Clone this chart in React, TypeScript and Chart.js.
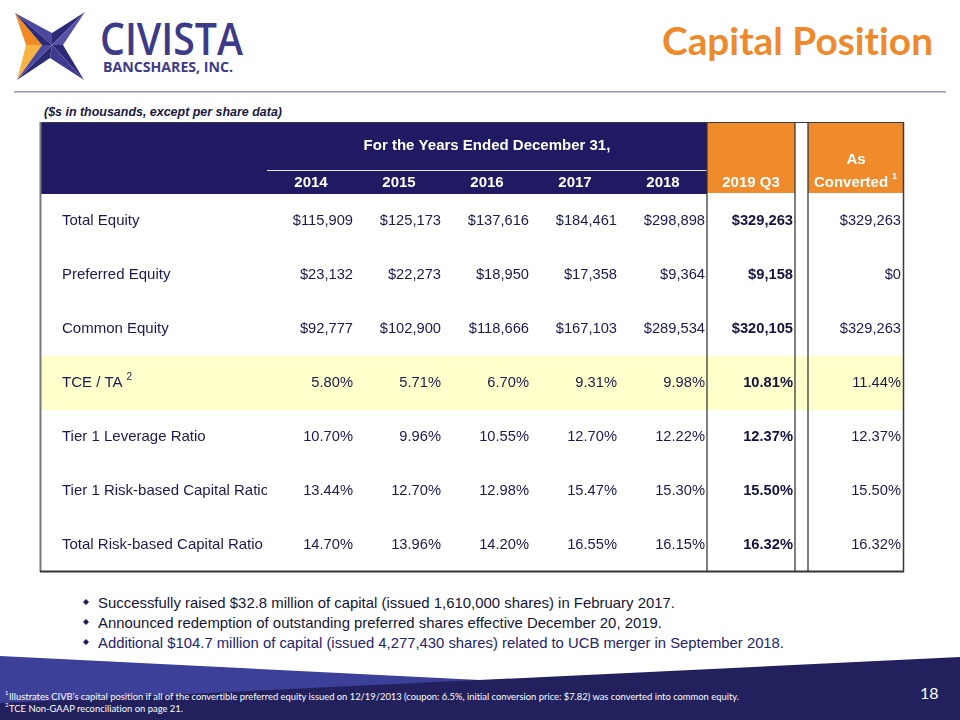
import React, { useEffect, useRef } from 'react';
import { Chart, registerables } from 'chart.js';

Chart.register(...registerables);

// ---------- data ----------
const columns = ['2014', '2015', '2016', '2017', '2018', '2019 Q3', 'As Converted'];
const headerGroup = 'For the Years Ended December 31,';
const rowLabels = [
  'Total Equity',
  'Preferred Equity',
  'Common Equity',
  'TCE / TA',
  'Tier 1 Leverage Ratio',
  'Tier 1 Risk-based Capital Ratio',
  'Total Risk-based Capital Ratio',
];
const rowFootnotes = ['', '', '', '2', '', '', ''];
const rowKinds = ['usd', 'usd', 'usd', 'pct', 'pct', 'pct', 'pct'];

const totalEquity = [115909, 125173, 137616, 184461, 298898, 329263, 329263];
const preferredEquity = [23132, 22273, 18950, 17358, 9364, 9158, 0];
const commonEquity = [92777, 102900, 118666, 167103, 289534, 320105, 329263];
const tceTa = [5.8, 5.71, 6.7, 9.31, 9.98, 10.81, 11.44];
const tier1Leverage = [10.7, 9.96, 10.55, 12.7, 12.22, 12.37, 12.37];
const tier1RiskBased = [13.44, 12.7, 12.98, 15.47, 15.3, 15.5, 15.5];
const totalRiskBased = [14.7, 13.96, 14.2, 16.55, 16.15, 16.32, 16.32];
const rowValues = [totalEquity, preferredEquity, commonEquity, tceTa, tier1Leverage, tier1RiskBased, totalRiskBased];

const bullets = [
  'Successfully raised $32.8 million of capital (issued 1,610,000 shares) in February 2017.',
  'Announced redemption of outstanding preferred shares effective December 20, 2019.',
  'Additional $104.7 million of capital (issued 4,277,430 shares) related to UCB merger in September 2018.',
];
const footnotes = [
  'Illustrates CIVB\u2019s capital position if all of the convertible preferred equity issued on 12/19/2013 (coupon: 6.5%, initial conversion price: $7.82) was converted into common equity.',
  'TCE Non-GAAP reconciliation on page 21.',
];

// ---------- layout / style ----------
const COL_WIDTHS = [227, 88, 88, 88, 88, 88, 88, 13, 96]; // label, 2014..2018, Q3, gap, as converted
const HEADER_H = 72;
const ROW_H = 54;
const NAVY = '#1f1a62';
const ORANGE = '#ef8b2a';
const YELLOW = '#ffffcc';
const TEXT = '#1b1a50';
const FONT = '"Liberation Sans", Arial, sans-serif';

function fmt(v: number, kind: string) {
  if (kind === 'usd') return '$' + v.toLocaleString('en-US');
  return v.toFixed(2) + '%';
}

export default function App() {
  const canvasRef = useRef<HTMLCanvasElement>(null);

  useEffect(() => {
    const canvas = canvasRef.current;
    if (!canvas) return;
    const edges: number[] = [0];
    COL_WIDTHS.forEach((w, i) => edges.push(edges[i] + w));
    const tableW = edges[edges.length - 1];
    const tableH = HEADER_H + ROW_H * rowLabels.length;
    const layoutCol = (i: number) => (i < 6 ? i + 1 : 8);
    const rowMid = (r: number) => HEADER_H + ROW_H * r + ROW_H / 2;

    const datasets = columns.map((col, i) => ({
      label: col,
      data: rowValues.map((vals, r) => ({ x: edges[layoutCol(i) + 1] - (i === 6 ? 3 : 2), y: rowMid(r), v: vals[i] })),
      pointRadius: 0,
      pointHoverRadius: 0,
      showLine: false,
    }));

    const tablePlugin = {
      id: 'capitalTable',
      beforeDatasetsDraw(chart: any) {
        const ctx = chart.ctx as CanvasRenderingContext2D;
        const X = (v: number) => chart.scales.x.getPixelForValue(v);
        const Y = (v: number) => chart.scales.y.getPixelForValue(v);
        ctx.save();
        // highlighted row
        const hl = rowLabels.indexOf('TCE / TA');
        ctx.fillStyle = YELLOW;
        ctx.fillRect(X(0), Y(HEADER_H + ROW_H * hl), X(tableW) - X(0), Y(HEADER_H + ROW_H * (hl + 1)) - Y(HEADER_H + ROW_H * hl));
        // navy header
        ctx.fillStyle = NAVY;
        ctx.fillRect(X(0), Y(0), X(edges[6]) - X(0), Y(HEADER_H) - Y(0));
        // orange headers
        ctx.fillStyle = ORANGE;
        ctx.fillRect(X(edges[6]), Y(0), X(edges[7]) - X(edges[6]), Y(HEADER_H - 1) - Y(0));
        ctx.fillRect(X(edges[8]), Y(0), X(edges[9]) - X(edges[8]), Y(HEADER_H - 1) - Y(0));
        // white rule in header
        ctx.strokeStyle = '#e8e8f0';
        ctx.lineWidth = 1;
        ctx.beginPath();
        ctx.moveTo(X(edges[1]), Math.round(Y(48)) + 0.5);
        ctx.lineTo(X(edges[6]), Math.round(Y(48)) + 0.5);
        ctx.stroke();

        // header text
        const HF = `bold 15px ${FONT}`;
        ctx.fillStyle = '#ffffff';
        ctx.font = HF;
        ctx.textBaseline = 'middle';
        ctx.textAlign = 'center';
        ctx.fillText(headerGroup, X((edges[1] + edges[6]) / 2), Y(24));
        columns.forEach((c, i) => {
          const lc = layoutCol(i);
          const cx = X((edges[lc] + edges[lc + 1]) / 2);
          if (c === 'As Converted') {
            ctx.textAlign = 'center';
            ctx.fillText('As', cx, Y(38));
            ctx.fillText('Converted', cx - 5, Y(61));
            const w = ctx.measureText('Converted').width;
            ctx.font = `bold 9px ${FONT}`;
            ctx.textAlign = 'left';
            ctx.fillText('1', cx - 5 + w / 2 + 4, Y(55));
            ctx.font = HF;
          } else {
            ctx.textAlign = 'center';
            ctx.fillText(c, cx, Y(61));
          }
        });

        // row labels (clipped to label column)
        ctx.save();
        ctx.beginPath();
        ctx.rect(X(0), Y(HEADER_H), X(edges[1]) - X(0), Y(tableH) - Y(HEADER_H));
        ctx.clip();
        ctx.fillStyle = TEXT;
        ctx.textAlign = 'left';
        rowLabels.forEach((lab, r) => {
          ctx.font = `15px ${FONT}`;
          const lx = X(22);
          ctx.fillText(lab, lx, Y(rowMid(r)));
          if (rowFootnotes[r]) {
            const w = ctx.measureText(lab).width;
            ctx.font = `10px ${FONT}`;
            ctx.fillText(rowFootnotes[r], lx + w + 4, Y(rowMid(r) - 6));
          }
        });
        ctx.restore();
        ctx.restore();
      },
      afterDatasetsDraw(chart: any) {
        const ctx = chart.ctx as CanvasRenderingContext2D;
        const X = (v: number) => chart.scales.x.getPixelForValue(v);
        const Y = (v: number) => chart.scales.y.getPixelForValue(v);
        ctx.save();
        ctx.textBaseline = 'middle';
        ctx.textAlign = 'right';
        chart.data.datasets.forEach((ds: any, di: number) => {
          const meta = chart.getDatasetMeta(di);
          const bold = ds.label === '2019 Q3';
          ctx.font = `${bold ? 'bold ' : ''}14.7px ${FONT}`;
          ctx.fillStyle = bold ? '#14133f' : TEXT;
          meta.data.forEach((el: any, r: number) => {
            ctx.fillText(fmt(ds.data[r].v, rowKinds[r]), el.x, el.y);
          });
        });
        // borders
        const line = (x1: number, y1: number, x2: number, y2: number, color: string, w: number) => {
          ctx.strokeStyle = color;
          ctx.lineWidth = w;
          ctx.beginPath();
          ctx.moveTo(X(x1), Y(y1));
          ctx.lineTo(X(x2), Y(y2));
          ctx.stroke();
        };
        line(0, 0.5, tableW, 0.5, '#3a3a4a', 1);
        line(0.5, 0, 0.5, tableH, '#7a7a7a', 2);
        line(0, tableH - 0.5, tableW, tableH - 0.5, '#333333', 2);
        line(tableW - 0.5, 0, tableW - 0.5, tableH, '#3a3a3a', 1.5);
        [edges[6], edges[7], edges[8]].forEach((e) => line(e, 0, e, tableH, '#3a3a3a', 1.3));
        ctx.restore();
      },
    };

    const chart = new Chart(canvas, {
      type: 'scatter',
      data: { datasets: datasets as any },
      options: {
        animation: false,
        responsive: false,
        maintainAspectRatio: false,
        devicePixelRatio: 1,
        events: [],
        layout: { padding: { left: 40, top: 122, right: 960 - 40 - tableW, bottom: 720 - 122 - tableH } },
        scales: {
          x: { type: 'linear', min: 0, max: tableW, display: false },
          y: { type: 'linear', min: 0, max: tableH, reverse: true, display: false },
        },
        plugins: { legend: { display: false }, tooltip: { enabled: false }, title: { display: false } },
      },
      plugins: [tablePlugin],
    });
    return () => chart.destroy();
  }, []);

  const bulletEnds = [675, 662, 784];
  const bulletColors = ['#151535', '#151535', '#24246a'];

  return (
    <div style={{ position: 'absolute', left: 0, top: 0, width: 960, height: 720, background: '#ffffff', overflow: 'hidden' }}>
      <svg width={960} height={720} style={{ position: 'absolute', left: 0, top: 0, fontVariantLigatures: 'none' }}>
        {/* logo mark */}
        <polygon points="15,13 42,45 26,45" fill="#ef8a24" />
        <polygon points="26,45 42,45 17,80" fill="#f7b444" />
        <polygon points="52,45 15,13 52,33" fill="#4b489e" />
        <polygon points="52,45 15,13 42,45" fill="#2c2977" />
        <polygon points="52,45 85,12 52,33" fill="#2c2977" />
        <polygon points="52,45 85,12 63,45" fill="#5552a8" />
        <polygon points="52,45 84,80 63,45" fill="#2c2977" />
        <polygon points="52,45 84,80 50,58" fill="#3f3c90" />
        <polygon points="52,45 17,80 50,58" fill="#2c2977" />
        <polygon points="52,45 17,80 42,45" fill="#4b489e" />
        <text x={100} y={55} fontFamily='"Open Sans", sans-serif' fontWeight={600} fontSize={46} fill="#3d3b88" textLength={143} lengthAdjust="spacingAndGlyphs">CIVISTA</text>
        <text x={103} y={72} fontFamily='"Open Sans", sans-serif' fontWeight={700} fontSize={13.5} fill="#3d3b88" textLength={130} lengthAdjust="spacingAndGlyphs">BANCSHARES, INC.</text>
        {/* title */}
        <text x={662} y={55} fontFamily="Lato, sans-serif" fontWeight={700} fontSize={38} fill="#ee8a2c" textLength={271} lengthAdjust="spacingAndGlyphs" style={{ fontVariantLigatures: 'none' }}>Capital Position</text>
        <rect x={14} y={91} width={932} height={1.6} fill="#9a9ac8" />
        {/* subtitle */}
        <text x={44} y={116} fontFamily={FONT} fontWeight={700} fontStyle="italic" fontSize={12.5} fill="#1a1a40" textLength={238} lengthAdjust="spacingAndGlyphs">($s in thousands, except per share data)</text>
        {/* bullets */}
        {bullets.map((b, i) => (
          <g key={i}>
            <polygon points={`${86},${599 + i * 20} ${89},${602 + i * 20} ${86},${605 + i * 20} ${83},${602 + i * 20}`} fill="#1c1c5a" />
            <text x={98} y={608 + i * 20} fontFamily={FONT} fontSize={14.5} fill={bulletColors[i]} textLength={bulletEnds[i] - 98} lengthAdjust="spacingAndGlyphs">{b}</text>
          </g>
        ))}
        {/* footer */}
        <polygon points="0,656 960,704 960,720 0,720" fill="#3c4099" />
        <polygon points="0,703 960,657 960,720 0,720" fill="#22215e" />
        <text x={5} y={695} fontFamily="Lato, sans-serif" fontSize={6} fill="#ffffff">1</text>
        <text x={9} y={700} fontFamily="Lato, sans-serif" fontSize={9.5} fill="#ffffff" textLength={730} lengthAdjust="spacingAndGlyphs" style={{ fontVariantLigatures: 'none' }}>{footnotes[0]}</text>
        <text x={5} y={707} fontFamily="Lato, sans-serif" fontSize={6} fill="#ffffff">2</text>
        <text x={9} y={712} fontFamily="Lato, sans-serif" fontSize={9.5} fill="#ffffff" textLength={174} lengthAdjust="spacingAndGlyphs" style={{ fontVariantLigatures: 'none' }}>{footnotes[1]}</text>
        <text x={920} y={699} fontFamily="Lato, sans-serif" fontSize={16} fill="#ffffff">18</text>
      </svg>
      <canvas ref={canvasRef} width={960} height={720} style={{ position: 'absolute', left: 0, top: 0 }} />
    </div>
  );
}
